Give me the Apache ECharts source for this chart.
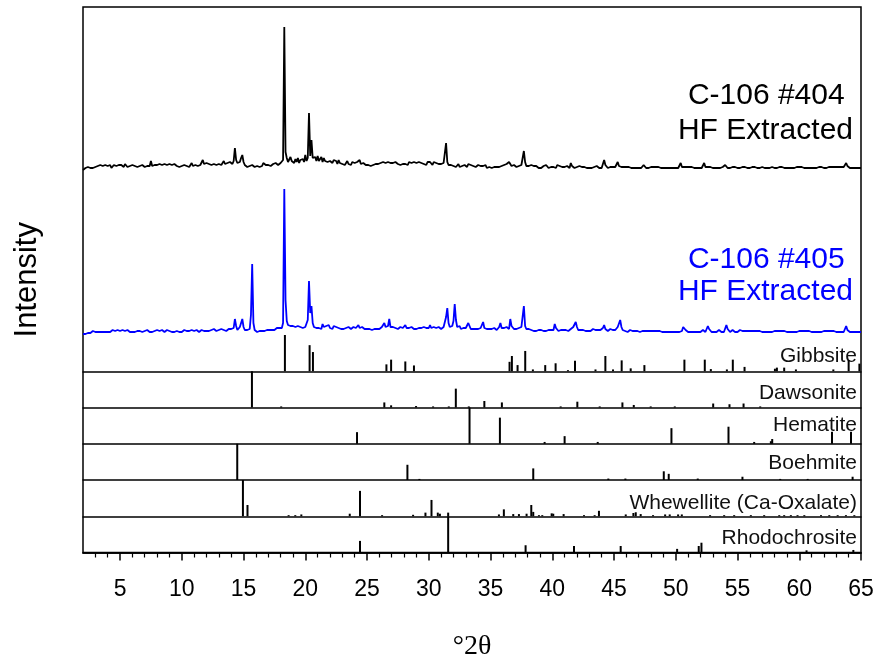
<!DOCTYPE html>
<html><head><meta charset="utf-8">
<script src="https://cdn.jsdelivr.net/npm/echarts@6/dist/echarts.min.js"></script>
<style>html,body{margin:0;padding:0;background:#fff}#c{width:878px;height:659px}</style>
</head><body><div id="c"></div>
<script>
// ---------- DATA ----------
const twoThetaStart = 2, twoThetaStep = 0.1;   // scan grid of the two patterns (°2θ)
const offset404 = 165;                          // vertical offset of the stacked #404 pattern
const offset405 = 0;

// C-106 #404 HF extracted (one row per degree, 0.1° steps)
const int404 = [
 [0,1,2,1,3,2,2,3,2,4],[3,2,4,3,5,3,4,2,5,3],[4,3,5,2,4,5,3,4,2,5],[3,5,4,3,6,4,3,5,4,3],
 [5,3,4,6,3,5,4,3,5,4],[3,5,4,6,4,9,4,3,5,4],[5,3,6,4,5,3,6,4,5,4],[6,4,5,3,6,5,4,6,3,5],
 [4,6,5,7,4,6,3,5,7,4],[6,5,7,4,6,5,7,10,6,5],[7,5,6,8,5,7,6,8,5,7],[6,8,5,7,9,6,8,7,6,8],
 [7,6,9,22,10,7,6,8,12,15],[8,5,4,3,5,4,3,5,4,3],[5,4,6,3,5,4,7,8,5,4],[5,6,4,5,6,5,7,6,5,6],
 [7,6,10,143,18,12,8,6,13,9],[10,7,11,8,12,7,10,9,11,8],[15,9,12,57,14,30,12,10,13,9],[14,9,11,13,8,12,9,11,8,10],
 [9,11,7,10,8,9,6,10,7,8],[6,8,5,7,9,6,7,5,8,6],[7,5,8,6,10,6,5,7,6,5],[6,5,7,4,6,5,7,6,4,6],
 [5,7,6,8,6,7,9,8,6,7],[9,7,6,8,7,6,8,5,7,6],[8,6,7,5,8,6,7,6,8,6],[7,5,8,6,7,8,6,7,5,8],
 [6,8,7,5,8,6,7,5,6,7],[6,5,7,9,27,8,5,4,5,3],[4,5,3,4,6,3,5,4,3,5],[4,3,6,4,5,3,4,5,3,4],
 [5,3,4,2,4,3,5,2,4,3],[4,2,4,3,5,3,4,3,5,4],[3,5,4,6,5,8,6,4,3,5],[4,3,5,4,6,5,7,19,8,4],
 [3,4,2,5,3,4,2,4,3,2],[4,2,3,4,2,5,3,2,4,3],[2,3,4,2,5,3,4,2,3,2],[3,2,4,3,2,7,4,3,2,4],
 [3,2,4,2,3,2,3,4,2,3],[2,3,2,4,3,2,4,3,2,3],[2,4,10,5,3,2,4,3,2,3],[2,3,4,8,4,2,3,2,3,2],
 [3,2,3,4,2,3,2,3,2,4],[2,3,2,4,5,3,2,3,2,2],[3,2,3,2,3,2,3,2,2,3],[2,3,2,3,2,3,2,3,2,3],
 [2,3,2,4,7,3,2,3,2,3],[2,3,2,3,2,2,3,2,3,2],[3,2,3,7,3,2,3,2,3,2],[2,3,2,3,2,3,2,4,3,2],
 [5,3,2,3,2,2,3,2,3,2],[2,3,2,2,3,2,3,2,2,3],[2,2,3,2,3,2,2,3,2,2],[3,2,2,3,2,3,2,2,3,2],
 [2,3,2,2,3,2,3,2,2,3],[2,3,2,3,2,3,2,2,3,2],[3,2,3,2,2,3,2,3,2,3],[2,3,2,3,2,2,3,2,3,2],
 [2,3,2,3,3,2,3,2,3,2],[3,2,3,2,3,2,3,2,7,4],[3,2,3,2,3,2,3,2,3,2],[2]
].flat();

// C-106 #405 HF extracted
const int405 = [
 [1,2,1,3,2,3,2,3,4,3],[3,4,3,5,3,4,3,4,3,5],[3,4,3,4,5,3,4,3,5,4],[4,3,5,3,4,3,5,4,3,4],
 [3,4,3,5,4,3,4,5,3,4],[4,3,5,4,3,4,3,5,4,3],[5,3,4,3,5,4,3,4,5,3],[4,5,3,4,3,5,4,6,3,4],
 [3,4,5,3,4,6,4,3,5,4],[4,3,5,4,3,4,5,3,4,5],[4,5,4,6,5,4,6,5,4,5],[5,4,6,4,5,6,4,5,6,5],
 [6,5,7,16,9,5,6,8,12,16],[8,5,4,5,4,6,20,71,12,5],[4,3,5,4,3,4,5,4,3,5],[4,5,4,5,6,5,6,7,6,7],
 [8,7,12,146,35,14,10,12,9,11],[9,11,8,10,9,11,8,10,7,9],[8,10,15,54,22,29,12,8,10,7],[9,7,8,6,11,8,6,9,7,10],
 [7,8,6,9,7,8,6,7,8,6],[7,6,8,7,6,8,7,6,7,8],[6,7,8,10,7,6,8,7,6,7],[6,8,6,7,5,7,6,8,6,7],
 [6,7,8,10,12,8,7,9,16,8],[7,8,6,7,8,6,7,8,6,7],[8,10,7,6,7,6,8,9,6,7],[6,8,7,6,7,6,8,6,7,8],
 [7,10,7,6,8,6,7,6,8,7],[6,7,8,9,18,27,12,8,7,9],[14,31,15,8,7,9,6,8,7,6],[7,8,12,9,6,7,6,5,6,5],
 [6,5,7,6,13,7,5,6,5,6],[5,6,5,7,6,5,7,8,12,7],[6,7,5,8,7,6,16,9,7,6],[5,6,5,7,6,8,10,29,9,6],
 [5,6,4,5,6,4,5,4,6,5],[4,5,6,4,5,4,6,5,4,5],[6,5,11,7,5,4,6,5,4,5],[4,5,6,4,5,6,5,8,6,13],
 [8,5,4,5,4,5,6,4,5,4],[5,4,5,6,4,5,4,5,6,5],[6,7,10,6,5,4,5,6,4,5],[4,5,6,8,10,15,8,5,6,4],
 [4,3,4,5,3,4,3,4,3,4],[4,3,5,4,3,4,3,4,3,4],[3,4,3,4,3,4,3,4,5,3],[4,3,4,3,4,3,4,3,4,3],
 [4,3,4,3,5,4,8,9,5,4],[3,4,3,4,3,4,3,4,3,4],[3,4,5,4,3,5,9,6,4,3],[4,3,4,3,4,5,4,3,4,3],
 [5,10,6,4,3,4,5,4,3,4],[3,4,5,3,4,3,4,3,4,3],[4,3,4,3,4,3,4,3,4,3],[3,4,3,4,3,4,3,4,3,4],
 [4,3,4,3,4,3,4,3,4,3],[3,4,3,4,3,4,3,4,3,4],[4,3,4,3,4,3,4,3,4,3],[3,4,3,4,3,4,3,4,3,4],
 [4,3,4,3,4,3,4,3,4,3],[3,4,3,4,3,4,3,5,9,5],[4,3,4,3,4,3,4,3,4,3],[3]
].flat();

// Reference stick patterns (position °2θ, relative intensity %)
const phaseNames = ['Gibbsite','Dawsonite','Hematite','Boehmite','Whewellite (Ca-Oxalate)','Rhodochrosite'];
const gibbsitePos = [18.35,20.35,20.62,26.57,26.95,28.1,28.8,36.54,36.73,37.19,37.81,38.43,39.43,40.27,41.27,41.84,43.5,44.3,44.92,45.62,46.35,47.46,50.7,52.35,52.84,54.14,54.62,55.57,58.03,58.19,58.78,59.73,62.76,64.0,64.87];
const gibbsiteInt = [100,72,53,19,32,27,16,26,42,17,56,5,17,22,3,29,5,42,5,30,8,17,32,32,6,5,32,12,7,10,10,5,5,31,21];
const dawsonitePos = [15.68,18.05,26.4,26.95,28.97,30.35,31.62,32.19,33.24,34.5,35.92,40.68,42.03,43.84,45.68,46.6,47.97,49.92,53.03,54.35,55.49,56.84];
const dawsoniteInt = [100,3,14,6,4,3,3,52,3,18,14,3,16,3,14,7,3,3,11,9,11,3];
const hematitePos = [24.19,33.3,35.76,39.38,41.0,43.68,49.65,54.27,56.35,57.7,57.81,62.65,64.19];
const hematiteInt = [32,100,72,5,21,5,43,47,5,7,13,33,33];
const boehmitePos = [14.49,28.27,29.24,38.46,44.54,45.92,49.03,49.43,51.78,55.4,58.46,60.68,64.32];
const boehmiteInt = [100,42,3,32,4,4,24,17,4,9,3,3,9];
const whewellitePos = [14.95,15.32,18.65,19.19,19.68,23.6,24.43,26.22,28.73,29.73,30.22,30.73,30.9,31.57,35.68,36.08,36.84,37.3,37.92,38.3,38.46,38.92,39.19,39.95,40.08,40.92,42.57,43.43,43.78,45.95,46.57,46.76,47.16,48.16,49.14,49.51,50.19,50.49,52.78,53.92,54.73,56.08,57.16,58.38,58.78,59.32,59.86,60.41,61.76,62.43,63.11,63.78,64.46];
const whewelliteInt = [100,31,3,3,5,7,70,3,4,10,45,10,7,10,5,19,6,6,7,31,12,3,3,8,7,6,3,3,15,5,9,11,6,3,5,5,5,5,3,3,3,3,3,3,3,3,3,3,3,3,3,3,3];
const rhodochrositePos = [24.43,31.57,37.84,41.76,45.54,50.11,51.86,52.08,60.59,64.38];
const rhodochrositeInt = [32,100,20,18,18,10,18,27,6,7];

const xMin = 2, xMax = 65;
const majorTicks = [5,10,15,20,25,30,35,40,45,50,55,60,65];
const minorTicks = [3,4,6,7,8,9,11,12,13,14,16,17,18,19,21,22,23,24,26,27,28,29,31,32,33,34,36,37,38,39,41,42,43,44,46,47,48,49,51,52,53,54,56,57,58,59,61,62,63,64];

// ---------- CHART ----------
const sticks = [
  [gibbsitePos,gibbsiteInt],[dawsonitePos,dawsoniteInt],[hematitePos,hematiteInt],
  [boehmitePos,boehmiteInt],[whewellitePos,whewelliteInt],[rhodochrositePos,rhodochrositeInt]
];
const L = 83, R = 878-861, topY = 7, traceBottom = 335, panelH = 36.25;
const FONT = 'Liberation Sans, Arial, sans-serif';

const grids = [{left:L,right:R,top:topY,height:traceBottom-topY,outerBoundsMode:'none'}];
const xAxes = [{gridIndex:0,type:'value',min:xMin,max:xMax,show:false}];
const yAxes = [{gridIndex:0,type:'value',min:0,max:328,show:false}];
const series = [];

function toPairs(arr, off){
  return arr.map((v,i)=>[Math.round((twoThetaStart+i*twoThetaStep)*10)/10, v+off]);
}
series.push({type:'line',xAxisIndex:0,yAxisIndex:0,data:toPairs(int404,offset404),showSymbol:false,
  lineStyle:{color:'#000',width:1.8},itemStyle:{color:'#000'},animation:false,silent:true});
series.push({type:'line',xAxisIndex:0,yAxisIndex:0,data:toPairs(int405,offset405),showSymbol:false,
  lineStyle:{color:'#0000ff',width:1.8},itemStyle:{color:'#0000ff'},animation:false,silent:true});

sticks.forEach((s,k)=>{
  const gi = k+1;
  grids.push({left:L,right:R,top:traceBottom+k*panelH,height:panelH,outerBoundsMode:'none'});
  xAxes.push({gridIndex:gi,type:'value',min:xMin,max:xMax,
    axisLine:{show:true,lineStyle:{color:'#000',width:1.5}},
    axisTick:{show:false},axisLabel:{show:false},splitLine:{show:false}});
  yAxes.push({gridIndex:gi,type:'value',min:0,max:100,show:false});
  series.push({type:'bar',xAxisIndex:gi,yAxisIndex:gi,barWidth:2,
    data:s[0].map((p,j)=>[p,s[1][j]]),itemStyle:{color:'#000'},animation:false,silent:true});
});
const lastGrid = sticks.length;
// major ticks + labels
xAxes.push({gridIndex:lastGrid,type:'value',min:xMin,max:xMax,position:'bottom',
  axisLine:{show:true,lineStyle:{color:'#000',width:1.5}},
  axisTick:{show:true,inside:false,length:8,customValues:majorTicks,lineStyle:{color:'#000',width:1.5}},
  axisLabel:{show:true,customValues:majorTicks,margin:26,fontSize:23,color:'#000',fontFamily:FONT},
  splitLine:{show:false}});
// minor ticks
xAxes.push({gridIndex:lastGrid,type:'value',min:xMin,max:xMax,position:'bottom',
  axisLine:{show:false},
  axisTick:{show:true,inside:false,length:5,customValues:minorTicks,lineStyle:{color:'#000',width:1.2}},
  axisLabel:{show:false},splitLine:{show:false}});

// frame around the whole plot + axis titles
const frameIdx = grids.length;
grids.push({left:L,right:R,top:topY,bottom:659-(traceBottom+sticks.length*panelH),show:true,
  borderColor:'#000',borderWidth:1.5,backgroundColor:'transparent',outerBoundsMode:'none'});
xAxes.push({gridIndex:frameIdx,type:'value',min:xMin,max:xMax,axisLine:{show:false},axisTick:{show:false},
  axisLabel:{show:false},splitLine:{show:false},name:'°2θ',nameLocation:'middle',nameGap:80,
  nameTextStyle:{fontFamily:'Liberation Serif, Times New Roman, serif',fontSize:28,color:'#000'}});
yAxes.push({gridIndex:frameIdx,type:'value',min:0,max:1,axisLine:{show:false},axisTick:{show:false},
  axisLabel:{show:false},splitLine:{show:false},name:'Intensity',nameLocation:'middle',nameGap:40,
  nameTextStyle:{fontFamily:FONT,fontSize:31,color:'#000'}});

const labelY = [356,393,425,463,503,538];
const graphics = phaseNames.map((n,k)=>({type:'text',right:878-857,top:labelY[k]-10,
  style:{text:n,font:'21px '+FONT,fill:'#111'}}));
const sampleText = [
  ['C-106 #404 ',98,'#000'],['HF Extracted',132.5,'#000'],
  ['C-106 #405 ',261.7,'#0000ff'],['HF Extracted',294,'#0000ff']
];
sampleText.forEach(t=>graphics.push({type:'text',right:878-853,top:t[1]-17,
  style:{text:t[0],font:'30px '+FONT,fill:t[2]}}));

const chart = echarts.init(document.getElementById('c'));
chart.setOption({animation:false,grid:grids,xAxis:xAxes,yAxis:yAxes,series:series,graphic:graphics});
</script></body></html>
